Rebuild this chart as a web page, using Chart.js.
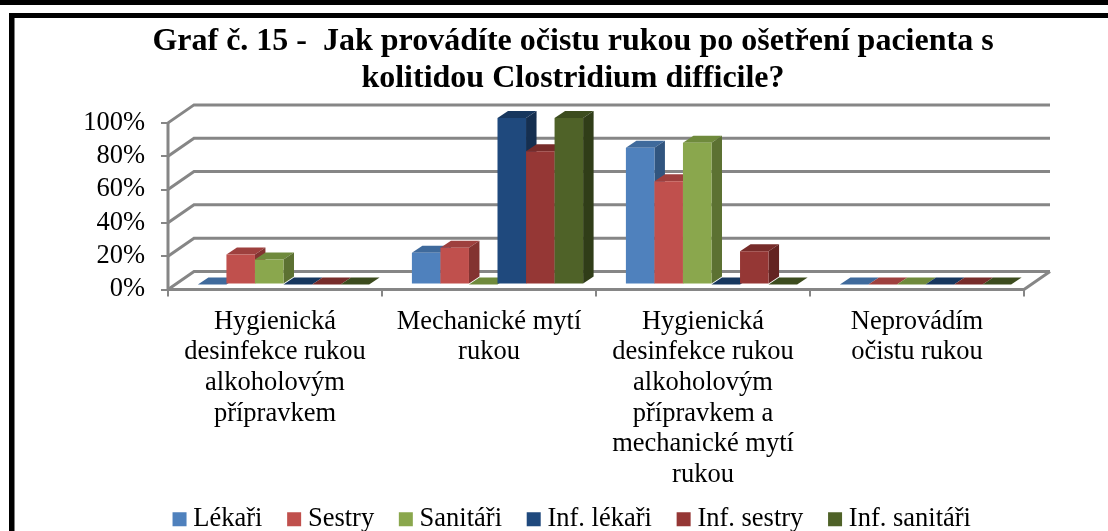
<!DOCTYPE html>
<html>
<head>
<meta charset="utf-8">
<style>
  html, body { margin: 0; padding: 0; background: #fff; }
  #wrap { position: relative; width: 1108px; height: 531px; }
</style>
<script src="https://cdn.jsdelivr.net/npm/chart.js@4/dist/chart.umd.min.js"></script>
</head>
<body>
<div id="wrap"><canvas id="chart" width="1108" height="531"></canvas></div>
<script>
const categories = [
  ['Hygienická', 'desinfekce rukou', 'alkoholovým', 'přípravkem'],
  ['Mechanické mytí', 'rukou'],
  ['Hygienická', 'desinfekce rukou', 'alkoholovým', 'přípravkem a', 'mechanické mytí', 'rukou'],
  ['Neprovádím', 'očistu rukou'],
];
const titleLines = [
  'Graf č. 15 -  Jak provádíte očistu rukou po ošetření pacienta s',
  'kolitidou Clostridium difficile?',
];
const seriesNames = ['Lékaři', 'Sestry', 'Sanitáři', 'Inf. lékaři', 'Inf. sestry', 'Inf. sanitáři'];
const lekari = [0, 19, 82, 0];
const sestry = [18, 22, 62, 0];
const sanitari = [15, 0, 85, 0];
const infLekari = [0, 100, 0, 0];
const infSestry = [0, 80, 20, 0];
const infSanitari = [0, 100, 0, 0];
const seriesValues = [lekari, sestry, sanitari, infLekari, infSestry, infSanitari];

// front, top and side colour of each series
const frontColors = ['#4f81bd', '#c0504d', '#8aa74d', '#1f497d', '#953735', '#4f6228'];
const topColors = ['#3f6a9c', '#9e403e', '#6f8a3c', '#17375e', '#772c2a', '#3c4c1e'];
const sideColors = ['#31557f', '#833331', '#5c7132', '#152f50', '#632321', '#303d18'];

const gridColor = '#868686';
// how far the back wall and the bars sit behind the front of the floor
const wall = { dx: 26, dy: -18 };
const barShift = { dx: 8.5, dy: -5 };
const barDepth = { dx: 10.5, dy: -7 };

const threeD = {
  id: 'threeD',
  afterLayout(chart) {
    // the last category label runs down next to the legend, don't let the axis clip it
    chart.scales.x.bottom += 20;
    chart.legend.left += 4;
  },
  beforeDatasetsDraw(chart) {
    const { ctx, scales: { x, y }, chartArea: area } = chart;
    ctx.save();
    ctx.strokeStyle = gridColor;
    ctx.lineWidth = 3;
    y.ticks.forEach((t) => {
      const py = y.getPixelForValue(t.value);
      ctx.beginPath();
      ctx.moveTo(area.left, py);
      ctx.lineTo(area.left + wall.dx, py + wall.dy);
      ctx.lineTo(area.right + wall.dx, py + wall.dy);
      ctx.stroke();
    });
    // floor
    const floor = y.getPixelForValue(0);
    ctx.beginPath();
    ctx.moveTo(area.left, y.getPixelForValue(100));
    ctx.lineTo(area.left, floor);
    ctx.lineTo(area.right, floor);
    ctx.lineTo(area.right + wall.dx, floor + wall.dy);
    ctx.stroke();

    // bars left to right so each one covers the side of the one before
    ctx.translate(barShift.dx, barShift.dy);
    categories.forEach((c, i) => {
      seriesValues.forEach((v, s) => {
        const bar = chart.getDatasetMeta(s).data[i];
        const left = bar.x - bar.width / 2;
        const right = bar.x + bar.width / 2;
        ctx.fillStyle = topColors[s];
        ctx.beginPath();
        ctx.moveTo(left, bar.y);
        ctx.lineTo(left + barDepth.dx, bar.y + barDepth.dy);
        ctx.lineTo(right + barDepth.dx, bar.y + barDepth.dy);
        ctx.lineTo(right, bar.y);
        ctx.closePath();
        ctx.fill();
        if (v[i] > 0) {
          ctx.fillStyle = sideColors[s];
          ctx.beginPath();
          ctx.moveTo(right, bar.y);
          ctx.lineTo(right + barDepth.dx, bar.y + barDepth.dy);
          ctx.lineTo(right + barDepth.dx, bar.base + barDepth.dy);
          ctx.lineTo(right, bar.base);
          ctx.closePath();
          ctx.fill();
          bar.draw(ctx);
        }
      });
    });
    ctx.restore();
  },
  // bars are already painted above
  beforeDatasetDraw() {
    return false;
  },
  afterDraw(chart) {
    const { ctx } = chart;
    ctx.save();
    ctx.fillStyle = '#000';
    // frame of the chart, its right side is cut off by the picture
    ctx.fillRect(9, 13, 1099, 5);
    ctx.fillRect(9, 13, 5.5, 518);
    // table rule above the chart
    ctx.fillRect(0, 0, 1108, 5);
    ctx.restore();
  },
};

new Chart('chart', {
  type: 'bar',
  data: {
    labels: categories,
    datasets: seriesNames.map((name, i) => ({
      label: name,
      data: seriesValues[i],
      backgroundColor: frontColors[i],
      categoryPercentage: 0.8,
      barPercentage: 1,
    })),
  },
  options: {
    responsive: false,
    animation: false,
    layout: { padding: { left: 38, right: 0, top: 18, bottom: -11.5 } },
    plugins: {
      tooltip: { enabled: false },
      title: {
        display: true,
        text: titleLines,
        color: '#000',
        font: { family: 'Liberation Serif', size: 32, weight: 'bold', lineHeight: 1.17 },
        padding: { top: 5, bottom: 25 },
      },
      legend: {
        position: 'bottom',
        labels: {
          color: '#000',
          // tiny box with a thick outline: keeps the square close to its text
          boxWidth: 1,
          boxHeight: 1,
          padding: 31.2,
          font: { family: 'Liberation Serif', size: 26.5 },
          generateLabels: (chart) => Chart.defaults.plugins.legend.labels.generateLabels(chart).map((item) => ({
            ...item,
            strokeStyle: item.fillStyle,
            lineWidth: 13,
            lineJoin: 'miter',
          })),
        },
      },
    },
    scales: {
      x: {
        grid: { drawOnChartArea: false, drawTicks: true, tickLength: 7, color: gridColor, lineWidth: 2 },
        border: { display: false },
        ticks: {
          color: '#000',
          maxRotation: 0,
          autoSkip: false,
          font: { family: 'Liberation Serif', size: 26.5, lineHeight: 1.157 },
          padding: 10,
        },
        afterFit: (s) => { s.height = 185.3; },
      },
      y: {
        min: 0,
        max: 100,
        grid: { drawOnChartArea: false, drawTicks: true, tickLength: 7, color: gridColor, lineWidth: 2 },
        border: { display: false },
        ticks: {
          stepSize: 20,
          autoSkip: false,
          color: '#000',
          font: { family: 'Liberation Serif', size: 26.5 },
          padding: 16,
          callback: (v) => `${v}%`,
        },
        afterFit: (s) => { s.width = 130; },
      },
      // empty axis, only holds the gap right of the plot
      spacer: {
        position: 'right',
        grid: { display: false },
        border: { display: false },
        ticks: { display: false },
        afterFit: (s) => { s.width = 84; },
      },
    },
  },
  plugins: [threeD],
});
</script>
</body>
</html>
